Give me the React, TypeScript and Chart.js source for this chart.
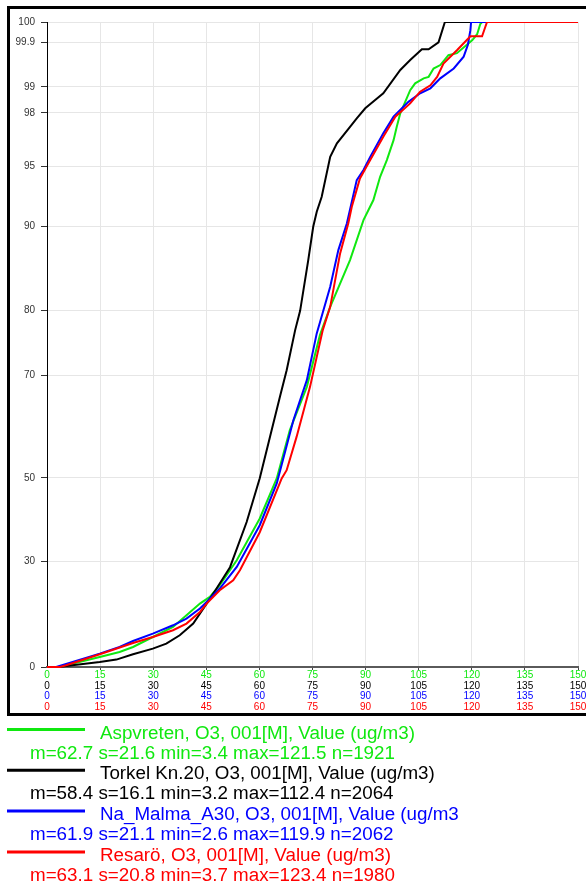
import React, { useEffect, useRef } from "react";
import { Chart, registerables, LinearScale } from "chart.js";

Chart.register(...registerables);

// ---- Probability (y) axis definition: tick values and their relative heights ----
const probTicks = [0, 30, 50, 70, 80, 90, 95, 98, 99, 99.9, 100];
const probTickPos = [0, 0.164, 0.2932, 0.4525, 0.5528, 0.6836, 0.7766, 0.8593, 0.8996, 0.9685, 1];

// ---- X axis ----
const xMin = 0;
const xMax = 150;
const xStep = 15;

// ---- Series ----
const seriesNames = ["Aspvreten", "Torkel Kn.20", "Na_Malma_A30", "Resarö"];
const seriesSuffix = ", O3, 001[M], Value (ug/m3)";
const seriesColors = ["#10e810", "#000000", "#0000ff", "#ff0000"];
const seriesMean = [62.7, 58.4, 61.9, 63.1];
const seriesSd = [21.6, 16.1, 21.1, 20.8];
const seriesMin = [3.4, 3.2, 2.6, 3.7];
const seriesMax = [121.5, 112.4, 119.9, 123.4];
const seriesN = [1921, 2064, 2062, 1980];

// Aspvreten (green)
const aspX = [0, 3.4, 14.9, 20.5, 24.3, 29.9, 35.6, 39.4, 43.2, 46.0, 48.8, 53.6, 60.1, 64.9, 68.6, 73.4, 77.1, 80.0, 85.6, 89.4, 92.2, 94.1, 96.0, 97.9, 98.8, 99.8, 102.6, 104.0, 106.4, 107.8, 109.2, 111.1, 113.4, 115.8, 118.6, 120.1, 121.5, 122.4, 122.9, 150];
const aspY = [0, 0, 2.84, 4.26, 5.68, 8.51, 11.35, 14.67, 17.99, 19.87, 23.19, 30.24, 40.25, 49.86, 59.29, 67.72, 76.18, 80.43, 85.97, 90.5, 92.17, 94.11, 95.34, 96.46, 97.21, 97.97, 98.87, 99.07, 99.17, 99.2, 99.37, 99.44, 99.64, 99.68, 99.85, 99.91, 99.94, 99.99, 100, 100];

// Torkel Kn.20 (black)
const torX = [0, 3.2, 5.4, 14.9, 19.6, 24.3, 29.9, 33.7, 37.5, 41.3, 45.1, 47.9, 51.7, 56.4, 60.1, 63.0, 65.8, 67.7, 70.1, 71.5, 73.8, 75.2, 76.2, 77.6, 80.0, 81.9, 85.6, 87.5, 89.9, 92.7, 95.0, 99.8, 102.6, 105.9, 107.8, 110.6, 112.4, 150];
const torY = [0, 0, 0.28, 1.42, 2.1, 3.6, 5.22, 6.64, 9.0, 12.32, 17.99, 22.25, 28.3, 39.4, 49.9, 58.0, 65.8, 70.77, 76.96, 79.94, 85.97, 89.92, 91.19, 92.44, 95.52, 96.28, 97.21, 97.69, 98.17, 98.49, 98.75, 99.34, 99.54, 99.76, 99.76, 99.9, 100, 100];

// Na_Malma_A30 (blue)
const malX = [0, 2.6, 14.9, 20.5, 24.3, 29.9, 35.6, 39.4, 43.2, 45.1, 48.8, 53.6, 60.1, 64.9, 69.6, 73.4, 76.2, 80.0, 82.3, 84.7, 87.5, 89.4, 91.3, 95.0, 97.9, 102.1, 105.4, 108.3, 111.1, 114.9, 117.7, 118.9, 119.6, 119.8, 150];
const malY = [0, 0, 3.8, 5.68, 7.38, 9.48, 11.83, 13.74, 16.57, 18.45, 22.25, 28.38, 38.64, 48.66, 61.23, 69.02, 76.45, 82.8, 87.15, 90.22, 93.83, 94.67, 95.52, 96.84, 97.78, 98.42, 98.75, 98.94, 99.17, 99.37, 99.61, 99.85, 99.96, 100, 100];

// Resarö (red)
const resX = [0, 3.7, 5.4, 14.9, 24.3, 29.9, 35.6, 39.4, 43.2, 45.1, 48.8, 52.6, 54.5, 60.1, 66.3, 67.7, 70.5, 74.3, 77.9, 80.0, 82.8, 85.1, 86.1, 88.4, 91.3, 95.0, 98.4, 102.6, 105.4, 108.3, 110.2, 112.0, 115.8, 119.6, 122.9, 124.3, 150];
const resY = [0, 0, 0.48, 3.6, 6.81, 8.51, 10.42, 12.32, 15.61, 17.99, 21.77, 24.6, 27.44, 36.96, 49.86, 51.5, 57.98, 67.72, 76.96, 80.43, 86.76, 90.22, 91.61, 93.97, 95.34, 96.65, 97.78, 98.36, 98.81, 99.03, 99.2, 99.47, 99.74, 99.93, 99.93, 100, 100];

const seriesX = [aspX, torX, malX, resX];
const seriesY = [aspY, torY, malY, resY];

const FONT = "'Liberation Sans', Arial, Helvetica, sans-serif";

class ProbabilityScale extends LinearScale {
  static id = "probability";
  static defaults = { ...(LinearScale as any).defaults };
  determineDataLimits() {
    (this as any).min = probTicks[0];
    (this as any).max = probTicks[probTicks.length - 1];
  }
  buildTicks() {
    return probTicks.map((v) => ({ value: v }));
  }
  getPixelForValue(value: number) {
    const v = Math.max(probTicks[0], Math.min(probTicks[probTicks.length - 1], value));
    let frac = 1;
    for (let i = 1; i < probTicks.length; i++) {
      if (v <= probTicks[i]) {
        const t = (v - probTicks[i - 1]) / (probTicks[i] - probTicks[i - 1]);
        frac = probTickPos[i - 1] + t * (probTickPos[i] - probTickPos[i - 1]);
        break;
      }
    }
    return (this as any).getPixelForDecimal(frac);
  }
  getValueForPixel(pixel: number) {
    const frac = (this as any).getDecimalForPixel(pixel);
    for (let i = 1; i < probTickPos.length; i++) {
      if (frac <= probTickPos[i]) {
        const t = (frac - probTickPos[i - 1]) / (probTickPos[i] - probTickPos[i - 1]);
        return probTicks[i - 1] + t * (probTicks[i] - probTicks[i - 1]);
      }
    }
    return probTicks[probTicks.length - 1];
  }
}
Chart.register(ProbabilityScale as any);

const frameLegendPlugin = {
  id: "frameLegend",
  afterDraw(chart: any) {
    const ctx = chart.ctx as CanvasRenderingContext2D;
    ctx.save();
    ctx.strokeStyle = "#000";
    ctx.lineWidth = 3;
    ctx.strokeRect(8.5, 7.5, 600, 707);
    // legend area is clipped on the right like the original
    ctx.beginPath();
    ctx.rect(0, 716, 458, 170);
    ctx.clip();
    ctx.font = `18.8px ${FONT}`;
    ctx.textBaseline = "alphabetic";
    ctx.textAlign = "left";
    seriesNames.forEach((name, i) => {
      const base = 738.5 + i * 40.8;
      ctx.strokeStyle = seriesColors[i];
      ctx.lineWidth = 3;
      ctx.beginPath();
      ctx.moveTo(7, base - 9);
      ctx.lineTo(85, base - 9);
      ctx.stroke();
      ctx.fillStyle = seriesColors[i];
      ctx.fillText(name + seriesSuffix, 100, base);
      const stats = `m=${seriesMean[i].toFixed(1)} s=${seriesSd[i].toFixed(1)} min=${seriesMin[i].toFixed(1)} max=${seriesMax[i].toFixed(1)} n=${seriesN[i]}`;
      ctx.fillText(stats, 30, base + 20);
    });
    ctx.restore();
  },
};

function xAxis(i: number) {
  const first = i === 0;
  return {
    type: "linear",
    position: "bottom",
    weight: i,
    min: xMin,
    max: xMax,
    ticks: {
      stepSize: xStep,
      color: seriesColors[i],
      font: { size: 10, family: FONT, lineHeight: 1.05 },
      padding: 0,
      maxRotation: 0,
      minRotation: 0,
      autoSkip: false,
      callback: (v: number) => String(v),
    },
    grid: first
      ? {
          display: true,
          color: (c: any) => (c.tick && c.tick.value === 0 ? "rgba(0,0,0,0)" : "#e6e6e6"),
          tickColor: (c: any) => (c.tick && c.tick.value === 0 ? "rgba(0,0,0,0)" : "#444"),
          tickLength: 3,
          drawTicks: true,
          lineWidth: 1,
        }
      : { display: false, drawTicks: false },
    border: first ? { display: true, color: "#5a5a5a", width: 2 } : { display: false },
    afterFit: (s: any) => {
      s.height = first ? 13.5 : 10.5;
      s.paddingLeft = 0;
      s.paddingRight = 0;
    },
  };
}

export default function App() {
  const ref = useRef<HTMLCanvasElement>(null);
  useEffect(() => {
    const datasets = seriesNames.map((name, i) => ({
      label: name,
      data: seriesX[i].map((x, j) => ({ x, y: seriesY[i][j] })),
      borderColor: seriesColors[i],
      backgroundColor: seriesColors[i],
      borderWidth: 2,
      pointRadius: 0,
      tension: 0,
      fill: false,
      xAxisID: "x" + i,
      yAxisID: "y",
      order: 3 - i,
      clip: { left: 1, right: 1, top: 0, bottom: 1 },
    }));
    const chart = new Chart(ref.current as HTMLCanvasElement, {
      type: "line",
      data: { datasets } as any,
      options: {
        animation: false,
        responsive: false,
        maintainAspectRatio: false,
        parsing: false as any,
        layout: { padding: { left: 0, top: 22, right: 8, bottom: 174 }, autoPadding: false } as any,
        plugins: { legend: { display: false }, tooltip: { enabled: false } },
        scales: {
          x0: xAxis(0),
          x1: xAxis(1),
          x2: xAxis(2),
          x3: xAxis(3),
          y: {
            type: "probability",
            position: "left",
            ticks: {
              color: "#333",
              font: { size: 10, family: FONT },
              padding: 6,
              autoSkip: false,
              callback: (v: number) => String(v),
            },
            grid: {
              color: (c: any) => (c.tick && c.tick.value === 0 ? "rgba(0,0,0,0)" : "#e6e6e6"),
              tickColor: "#333",
              tickLength: 6,
            },
            border: { display: true, color: "#000", width: 1 },
            afterFit: (s: any) => {
              s.width = 47;
              s.paddingTop = 0;
              s.paddingBottom = 0;
            },
          },
        } as any,
      },
      plugins: [frameLegendPlugin],
    } as any);
    return () => chart.destroy();
  }, []);
  return (
    <div style={{ position: "absolute", left: 0, top: 0, width: 586, height: 886, background: "#fff" }}>
      <canvas ref={ref} width={586} height={886} style={{ display: "block" }} />
    </div>
  );
}
